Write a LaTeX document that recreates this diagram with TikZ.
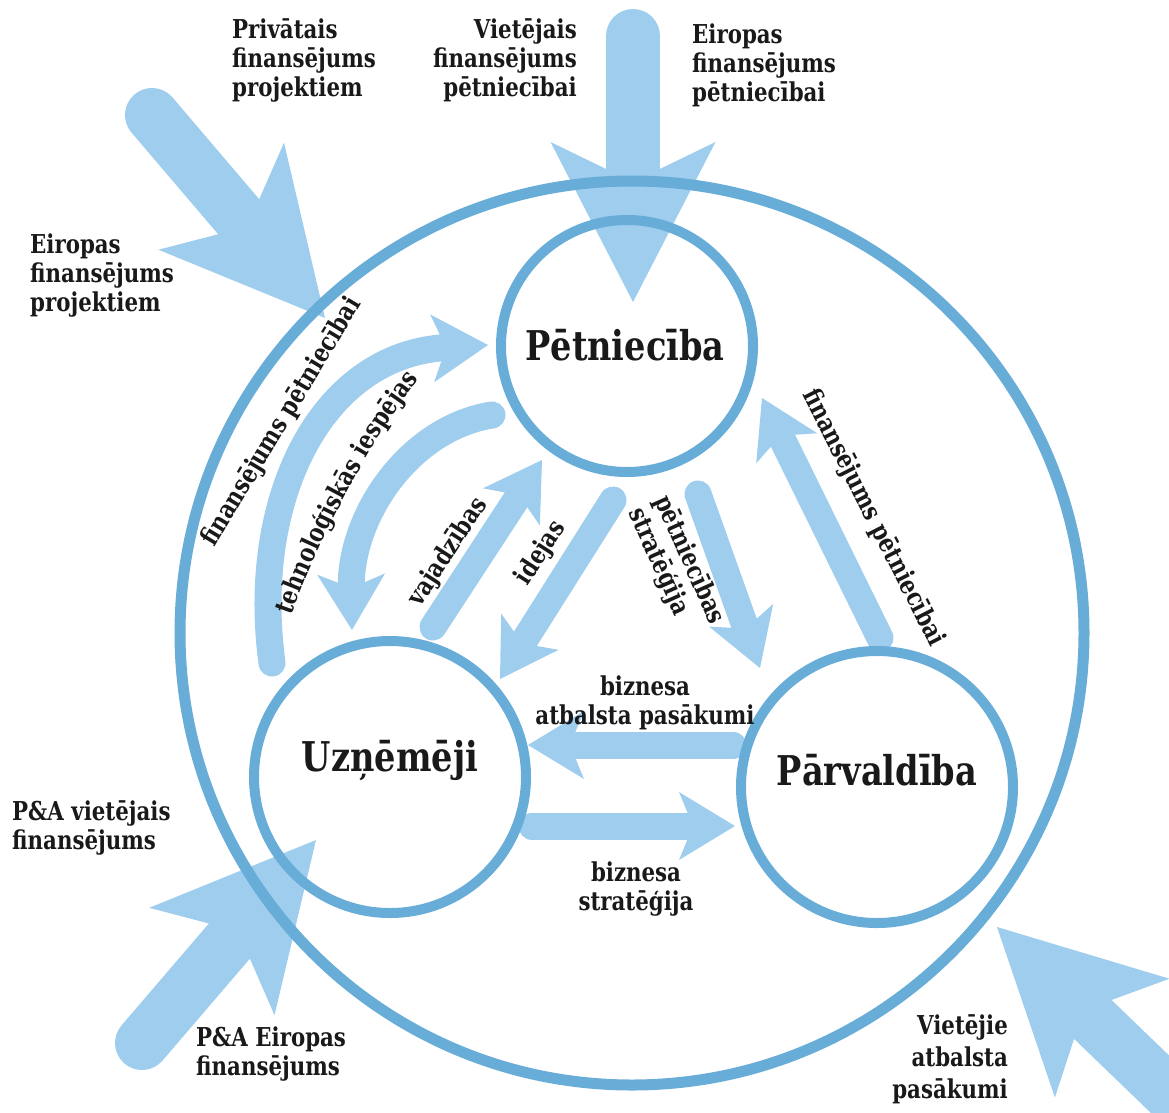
\documentclass[tikz,border=0pt]{standalone}
\usepackage{fontspec}
\setmainfont{DejaVu Serif}[FakeStretch=0.82]
\usetikzlibrary{arrows.meta,calc,decorations.text}
\pgfdeclarelayer{bg}
\pgfsetlayers{bg,main}
\definecolor{ringc}{RGB}{104,172,216}
\definecolor{flowc}{RGB}{158,205,238}
\newcommand\lblfont{\fontsize{26}{29}\selectfont\bfseries}
\tikzset{
  ring/.style={circle, draw=ringc, line width=10pt, inner sep=0pt, outer sep=0pt},
  outerring/.style={circle, draw=ringc, line width=11pt, inner sep=0pt, outer sep=0pt},
  bigflow/.style={draw=flowc, line width=54pt, line cap=round,
    -{Stealth[length=160pt, width=165pt, inset=40pt, line width=0pt]}},
  flowarrow/.style={draw=flowc, line width=27pt, line cap=round,
    -{Stealth[length=56pt, width=68pt, inset=14pt, line width=0pt]}},
  lbl/.style={font=\lblfont, inner sep=0pt, text=black!90},
  biglbl/.style={font=\fontsize{41}{45}\selectfont\bfseries, inner sep=0pt, text=black!90},
}
\begin{document}
\begin{tikzpicture}[x=1pt,y=-1pt]
\useasboundingbox (0,0) rectangle (1169,1112);
\clip (0,0) rectangle (1169,1112);

% circles
\node[outerring, minimum size=904pt] (O) at (632,633) {};
\node[ring, minimum size=252pt] (P) at (627,346) {};
\node[ring, minimum size=272pt] (U) at (390,777) {};
\node[ring, minimum size=272pt] (V) at (877,787) {};

\node[biglbl] (Pl) at (625,345) {Pētniecība};
\node[biglbl] (Ul) at (390,760) {Uzņēmēji};
\node[biglbl] (Vl) at (877,770) {Pārvaldība};

% arrow end points
\coordinate (a1s) at (152,115); \coordinate (a1e) at (325,318);
\coordinate (a2s) at (633,36);  \coordinate (a2e) at (633,302);
\coordinate (a3s) at (142,1043); \coordinate (a3e) at (316,840);
\coordinate (a4s) at (1280,1200); \coordinate (a4e) at (997,927);

\coordinate (b1s) at (272,663); \coordinate (b1e) at (488,345);
\coordinate (b2s) at (492,415); \coordinate (b2e) at (352,630);
\coordinate (b3s) at (433,627); \coordinate (b3e) at (542,460);
\coordinate (b4s) at (613,500); \coordinate (b4e) at (500,679);
\coordinate (b5s) at (698,494); \coordinate (b5e) at (760,668);
\coordinate (b6s) at (880,638); \coordinate (b6e) at (762,398);
\coordinate (b7s) at (733,745); \coordinate (b7e) at (528,745);
\coordinate (b8s) at (532,826); \coordinate (b8e) at (735,826);

\begin{pgfonlayer}{bg}
\draw[bigflow] (a1s) -- (a1e);
\draw[bigflow] (a2s) -- (a2e);
\draw[bigflow] (a3s) -- (a3e);
\draw[bigflow] (a4s) -- (a4e);
\draw[flowarrow] (b1s) .. controls (250,500) and (320,355) .. (b1e);
\draw[flowarrow] (b2s) .. controls (410,428) and (350,515) .. (b2e);
\draw[flowarrow] (b3s) -- (b3e);
\draw[flowarrow] (b4s) -- (b4e);
\draw[flowarrow] (b5s) -- (b5e);
\draw[flowarrow] (b6s) -- (b6e);
\draw[flowarrow] (b7s) -- (b7e);
\draw[flowarrow] (b8s) -- (b8e);
\end{pgfonlayer}

% outer labels
\node[lbl, align=left, anchor=north west] (t1) at (232,18) {Privātais\\finansējums\\projektiem};
\node[lbl, align=right, anchor=north east] (t2) at (577,18) {Vietējais\\finansējums\\pētniecībai};
\node[lbl, align=left, anchor=north west] (t3) at (692,24) {Eiropas\\finansējums\\pētniecībai};
\node[lbl, align=left, anchor=north west] (t4) at (30,234) {Eiropas\\finansējums\\projektiem};
\node[lbl, align=left, anchor=north west] (t5) at (12,800) {P\&A vietējais\\finansējums};
\node[lbl, align=left, anchor=north west] (t6) at (196,1027) {P\&A Eiropas\\finansējums};
\node[lbl, align=right, anchor=north east, font=\fontsize{26}{32}\selectfont\bfseries] (t7) at (1008,1014) {Vietējie\\atbalsta\\pasākumi};

% inner labels
\node[lbl, rotate=59] (r1) at (282,422) {finansējums pētniecībai};
\path[decorate, decoration={text along path, text align=center,
      text color=black!90, text={|\lblfont|tehnoloģiskās iespējas}}]
  (292,614) .. controls (319,539) and (369,443) .. (418,380);
\node[lbl, rotate=57] (r3) at (448,552) {vajadzības};
\node[lbl, rotate=57] (r4) at (541,553) {idejas};
\node[lbl, rotate=-66, align=left] (r5) at (676,566) {pētniecības\\stratēģija};
\node[lbl, rotate=-63] (r6) at (873,518) {finansējums pētniecībai};
\node[lbl, align=center] (h1) at (645,703) {biznesa\\atbalsta pasākumi};
\node[lbl, align=center] (h2) at (636,889) {biznesa\\stratēģija};
\end{tikzpicture}
\end{document}
